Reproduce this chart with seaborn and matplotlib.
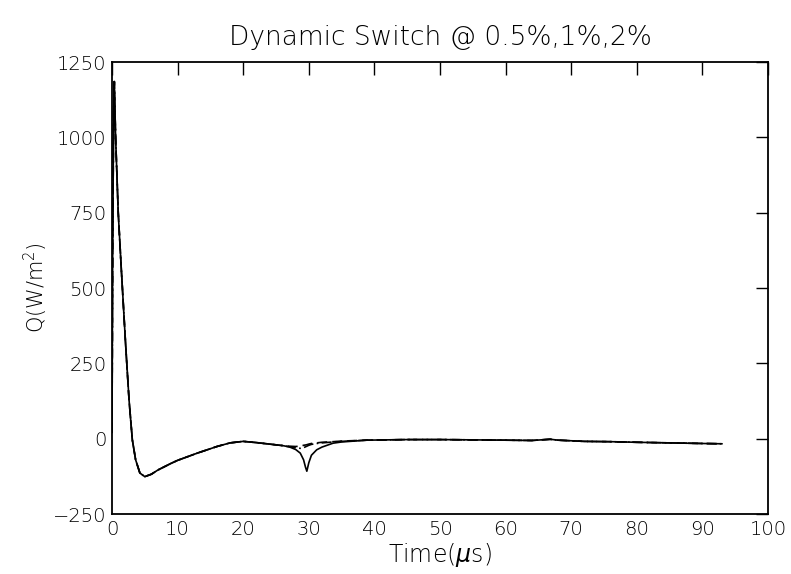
import numpy as np
import pandas as pd
import matplotlib
matplotlib.use("Agg")
import matplotlib.pyplot as plt
import seaborn as sns

# ---- data ----
time_common = [0.0, 0.1, 0.25, 0.35, 0.55, 0.95, 1.4, 2.08, 2.6, 3.1, 3.6, 4.25,
               5.0, 6.0, 7.0, 8.0, 9.0, 10.0, 11.5, 13.0, 14.5, 16.0, 18.0, 20.0,
               22.0, 24.0, 26.0]
q_common = [20, 600, 1100, 1185, 1000, 750, 570, 311, 128, -4, -70, -114,
            -126, -118, -104, -93, -82, -72, -60, -48, -37, -26, -14, -9,
            -13, -18, -23]

time_tail = [27.0, 28.0, 28.7, 29.2, 29.5, 29.7, 30.0, 30.4, 31.2, 32.0, 33.7, 35.0,
             38.8, 45.0, 50.0, 55.0, 60.0, 64.0, 66.8, 68.0, 72.0, 76.0, 80.0, 85.0,
             90.0, 93.0]
q_tail_05 = [-27, -36, -48, -70, -95, -108, -80, -55, -37, -28, -15, -11,
             -5, -3, -3, -4, -5, -6, -2, -5, -9, -10, -12, -14, -16, -17]
q_tail_1 = [-25, -26, -25, -22, -21, -20, -18, -16, -14, -12, -10, -8,
            -5, -3, -3, -4, -5, -6, -2, -5, -9, -10, -12, -14, -16, -17]
q_tail_2 = [-27, -30, -32, -30, -27, -25, -22, -19, -16, -14, -11, -9,
            -5, -3, -3, -4, -5, -6, -2, -5, -9, -10, -12, -14, -16, -17]

series_names = ["0.5%", "1%", "2%"]
tails = [q_tail_05, q_tail_1, q_tail_2]

x_ticks = [0, 10, 20, 30, 40, 50, 60, 70, 80, 90, 100]
y_ticks = [-250, 0, 250, 500, 750, 1000, 1250]

rows = []
for name, tail in zip(series_names, tails):
    for t, q in zip(time_common + time_tail, q_common + tail):
        rows.append({"t": t, "Q": q, "series": name})
df = pd.DataFrame(rows)

sns.set_theme(style="white")
plt.rcParams["font.family"] = ["DejaVu Sans"]
plt.rcParams["font.weight"] = "light"
plt.rcParams["text.color"] = "black"
plt.rcParams["axes.labelcolor"] = "black"
plt.rcParams["mathtext.default"] = "regular"

fig = plt.figure(figsize=(7.91, 5.74), dpi=100)
ax = fig.add_axes([112 / 791, 1 - 514 / 574, (768 - 112) / 791, (514 - 62) / 574])

sns.lineplot(data=df, x="t", y="Q", style="series", color="black",
             dashes={"0.5%": "", "1%": (6, 3), "2%": (6, 2, 1, 2)},
             estimator=None, sort=False, legend=False, linewidth=1.2, ax=ax)

ax.set_xlim(0, 100)
ax.set_ylim(-250, 1250)
ax.set_xticks(x_ticks)
ax.set_yticks(y_ticks)
ax.tick_params(direction="in", length=9, width=1, top=True, right=True,
               labelsize=14, colors="black", pad=4)
for lab in ax.get_xticklabels() + ax.get_yticklabels():
    lab.set_fontweight("light")
for s in ax.spines.values():
    s.set_visible(True)
    s.set_color("black")
    s.set_linewidth(1.3)

ax.set_xlabel("Time($\\mathit{\\mu}$s)", fontsize=17, fontweight="light", labelpad=2, color="black")
ax.set_ylabel("Q(W/m$^2$)", fontsize=15, fontweight="light", labelpad=2, color="black")
ax.set_title("Dynamic Switch @ 0.5%,1%,2%", fontsize=19, fontweight="light", pad=12, color="black")

fig.savefig("out.png", dpi=100)
